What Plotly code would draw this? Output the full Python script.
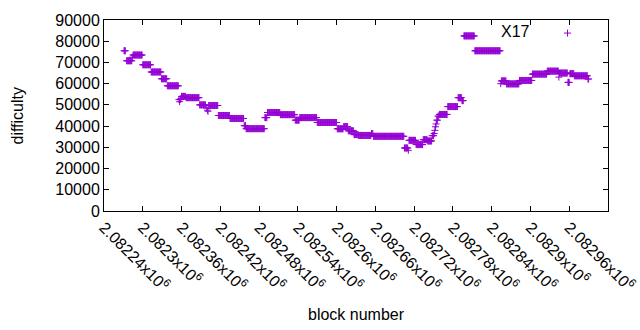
import plotly.graph_objects as go

# Runs of constant difficulty: (first block, last block, difficulty)
run_start = [2082271, 2082275, 2082284, 2082285, 2082300, 2082313, 2082329, 2082338,
             2082356, 2082357, 2082358, 2082359, 2082360, 2082367, 2082388, 2082399,
             2082400, 2082401, 2082402, 2082417, 2082435, 2082457, 2082460, 2082489,
             2082493, 2082513, 2082536, 2082543, 2082570, 2082601, 2082611, 2082618,
             2082627, 2082634, 2082654, 2082657, 2082705, 2082711, 2082712, 2082723,
             2082734, 2082741, 2082748, 2082751, 2082752, 2082753, 2082754, 2082755,
             2082757, 2082759, 2082772, 2082788, 2082794, 2082797, 2082814, 2082854,
             2082855, 2082863, 2082883, 2082903, 2082926, 2082944, 2082945, 2082958,
             2082961, 2082968, 2082989]
run_end = [2082273, 2082283, 2082284, 2082299, 2082312, 2082328, 2082337, 2082355,
           2082356, 2082357, 2082358, 2082359, 2082366, 2082387, 2082397, 2082399,
           2082400, 2082401, 2082416, 2082434, 2082456, 2082459, 2082488, 2082492,
           2082512, 2082535, 2082542, 2082569, 2082600, 2082610, 2082617, 2082626,
           2082633, 2082653, 2082656, 2082704, 2082710, 2082711, 2082722, 2082733,
           2082740, 2082747, 2082750, 2082751, 2082752, 2082753, 2082754, 2082756,
           2082758, 2082771, 2082787, 2082793, 2082796, 2082813, 2082853, 2082854,
           2082862, 2082882, 2082902, 2082925, 2082943, 2082944, 2082957, 2082960,
           2082967, 2082988, 2082990]
run_value = [75500, 70800, 72500, 73500, 68900, 65500, 62300, 59000,
             52500, 51500, 52500, 53000, 54000, 53400, 50000, 48500,
             47500, 47000, 49700, 45000, 43600, 40200, 38800, 44000,
             46400, 45400, 42800, 44000, 41700, 38750, 39800, 37800,
             36000, 35600, 36500, 35200, 29700, 28600, 33300, 31300,
             33600, 33000, 35500, 36500, 38000, 39700, 41000, 42800,
             44700, 45500, 49200, 53400, 52000, 82500, 75500, 60000,
             61300, 59900, 61500, 64500, 65900, 63100, 65000, 60600,
             64700, 63700, 62200]

x_ticks = [2082240, 2082300, 2082360, 2082420, 2082480, 2082540, 2082600,
           2082660, 2082720, 2082780, 2082840, 2082900, 2082960, 2083020]
x_tick_labels = ["2.08224x10<sup>6</sup>", "2.0823x10<sup>6</sup>", "2.08236x10<sup>6</sup>",
                 "2.08242x10<sup>6</sup>", "2.08248x10<sup>6</sup>", "2.08254x10<sup>6</sup>",
                 "2.0826x10<sup>6</sup>", "2.08266x10<sup>6</sup>", "2.08272x10<sup>6</sup>",
                 "2.08278x10<sup>6</sup>", "2.08284x10<sup>6</sup>", "2.0829x10<sup>6</sup>",
                 "2.08296x10<sup>6</sup>", "2.08302x10<sup>6</sup>"]
y_ticks = [0, 10000, 20000, 30000, 40000, 50000, 60000, 70000, 80000, 90000]

blocks, difficulty = [], []
for s, e, v in zip(run_start, run_end, run_value):
    for b in range(s, e + 1):
        blocks.append(b)
        difficulty.append(v)

COLOR = "#9400D3"
FONT = "Liberation Sans, Arial, sans-serif"
FS = 16

fig = go.Figure()
fig.add_trace(go.Scatter(
    x=blocks, y=difficulty, mode="markers", name=" ",
    marker=dict(symbol="cross-thin", size=5, color=COLOR,
                line=dict(color=COLOR, width=1)),
    showlegend=True,
))

axis_common = dict(showgrid=False, zeroline=False, showline=True, linecolor="black",
                   linewidth=1, mirror="ticks", ticks="inside", ticklen=5,
                   tickcolor="black", automargin=False,
                   tickfont=dict(family=FONT, size=FS, color="black"))

fig.update_layout(
    width=640, height=330,
    margin=dict(l=104, r=32, t=20, b=119),
    paper_bgcolor="white", plot_bgcolor="white",
    font=dict(family=FONT, size=FS, color="black"),
    xaxis=dict(range=[2082240, 2083020], tickvals=x_ticks, ticktext=x_tick_labels,
               tickangle=45, **axis_common),
    yaxis=dict(range=[0, 90000], tickvals=y_ticks, ticktext=[str(v) for v in y_ticks],
               **axis_common),
    legend=dict(x=0.88, y=1.02, xanchor="left", yanchor="top", bgcolor="rgba(0,0,0,0)",
                borderwidth=0, font=dict(family=FONT, size=FS)),
    annotations=[
        dict(text="X17", xref="paper", yref="paper", x=0.849, y=0.942,
             xanchor="right", yanchor="middle", showarrow=False,
             font=dict(family=FONT, size=FS, color="black")),
        dict(text="difficulty", xref="paper", yref="paper", x=-0.1726, y=0.5,
             xanchor="center", yanchor="middle", textangle=-90, showarrow=False,
             font=dict(family=FONT, size=FS, color="black")),
        dict(text="block number", xref="paper", yref="paper", x=0.5, y=-0.5445,
             xanchor="center", yanchor="middle", showarrow=False,
             font=dict(family=FONT, size=FS, color="black")),
    ],
)

fig.write_html("out.html", config={"displayModeBar": False},
               post_script="document.body.style.margin='0';document.body.style.padding='0';")
